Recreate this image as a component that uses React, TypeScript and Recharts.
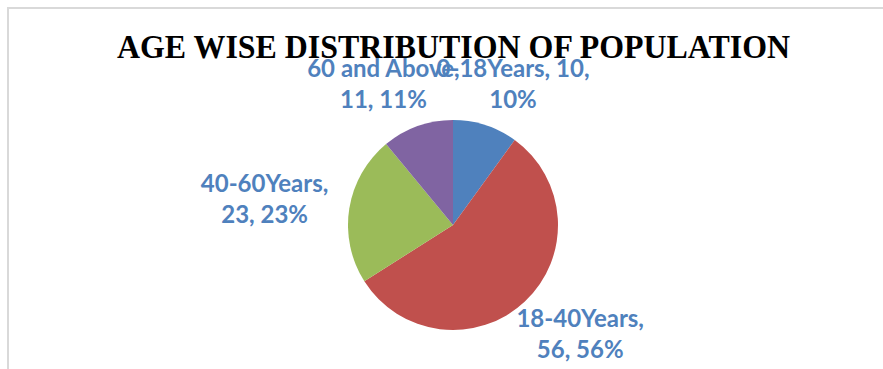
import { PieChart, Pie, Cell } from "recharts";

const AGE_GROUPS = ["0-18Years", "18-40Years", "40-60Years", "60 and Above"];
const POPULATION = [10, 56, 23, 11];
const PERCENTS = ["10%", "56%", "23%", "11%"];

const COLORS = ["#4F81BD", "#C0504D", "#9BBB59", "#8064A2"];
const LABEL_COLOR = "#4F81BD";

// how many of the three label parts go on the first line (Excel wraps them)
const FIRST_LINE_PARTS = [2, 1, 1, 1];
// small nudges so the labels sit where Excel's "best fit" put them
const LABEL_NUDGE = [
  [13, 5],
  [23, -1],
  [-38, -1],
  [-18, 3],
];

const data = AGE_GROUPS.map((name, i) => ({
  name,
  value: POPULATION[i],
  pct: PERCENTS[i],
}));

const RAD = Math.PI / 180;

function renderLabel(props: any) {
  const { cx, cy, midAngle, outerRadius, index } = props;
  const r = outerRadius * 1.45;
  const x = cx + r * Math.cos(-midAngle * RAD) + LABEL_NUDGE[index][0];
  const y = cy + r * Math.sin(-midAngle * RAD) + LABEL_NUDGE[index][1];
  const d = data[index];
  const parts = [d.name, String(d.value), d.pct];
  const n = FIRST_LINE_PARTS[index];
  const line1 = parts.slice(0, n).join(", ") + ",";
  const line2 = parts.slice(n).join(", ");
  return (
    <text
      key={`lbl-${index}`}
      textAnchor="middle"
      fill={LABEL_COLOR}
      fontFamily="Lato, 'Open Sans', sans-serif"
      fontWeight="bold"
      fontSize={24}
    >
      <tspan x={x} y={y - 8}>
        {line1}
      </tspan>
      <tspan x={x} y={y + 23}>
        {line2}
      </tspan>
    </text>
  );
}

export default function App() {
  return (
    <div
      style={{
        position: "absolute",
        left: 0,
        top: 0,
        width: 883,
        height: 369,
        background: "#fff",
        overflow: "hidden",
      }}
    >
      <svg
        width={883}
        height={369}
        style={{ position: "absolute", left: 0, top: 0 }}
      >
        <path d="M8,369 L8,8 L883,8" fill="none" stroke="#D9D9D9" strokeWidth={2} />
        <text
          x={117}
          y={58}
          textLength={673}
          lengthAdjust="spacingAndGlyphs"
          fontFamily="'Liberation Serif', 'Times New Roman', serif"
          fontWeight="bold"
          fontSize={33}
          fill="#000"
        >
          AGE WISE DISTRIBUTION OF POPULATION
        </text>
      </svg>
      <div style={{ position: "absolute", left: 0, top: 0 }}>
        <PieChart
          width={883}
          height={369}
          margin={{ top: 0, right: 0, bottom: 0, left: 0 }}
        >
          <Pie
            data={data}
            dataKey="value"
            nameKey="name"
            cx={453}
            cy={225}
            outerRadius={105}
            startAngle={90}
            endAngle={-270}
            stroke="none"
            label={renderLabel}
            labelLine={false}
            isAnimationActive={false}
          >
            {data.map((_, i) => (
              <Cell key={`cell-${i}`} fill={COLORS[i]} />
            ))}
          </Pie>
        </PieChart>
      </div>
    </div>
  );
}
